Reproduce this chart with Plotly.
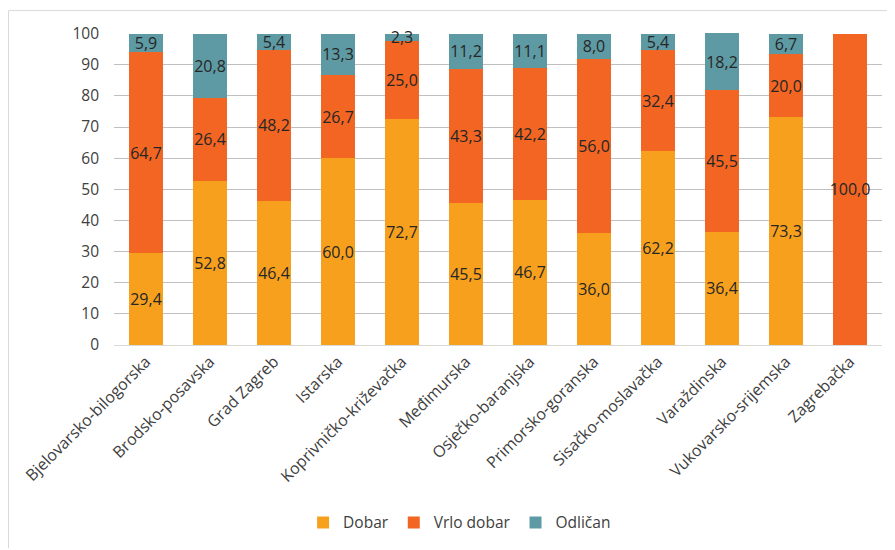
import plotly.graph_objects as go

categories = ["Bjelovarsko-bilogorska", "Brodsko-posavska", "Grad Zagreb", "Istarska",
              "Koprivničko-križevačka", "Međimurska", "Osječko-baranjska", "Primorsko-goranska",
              "Sisačko-moslavačka", "Varaždinska", "Vukovarsko-srijemska", "Zagrebačka"]
dobar = [29.4, 52.8, 46.4, 60.0, 72.7, 45.5, 46.7, 36.0, 62.2, 36.4, 73.3, None]
vrlo_dobar = [64.7, 26.4, 48.2, 26.7, 25.0, 43.3, 42.2, 56.0, 32.4, 45.5, 20.0, 100.0]
odlican = [5.9, 20.8, 5.4, 13.3, 2.3, 11.2, 11.1, 8.0, 5.4, 18.2, 6.7, None]
y_ticks = [0, 10, 20, 30, 40, 50, 60, 70, 80, 90, 100]

series = [("Dobar", dobar, "#F7A01E"), ("Vrlo dobar", vrlo_dobar, "#F26522"), ("Odličan", odlican, "#5E9AA4")]

def fmt(v):
    return "" if v is None else f"{v:.1f}".replace(".", ",")

fig = go.Figure()
for name, vals, color in series:
    fig.add_trace(go.Bar(
        x=categories, y=vals, name=name,
        marker=dict(color=color, line=dict(width=0)),
        text=[fmt(v) for v in vals],
        textposition="inside", insidetextanchor="middle", textangle=0,
        insidetextfont=dict(color="#262626", size=16, family="Open Sans"),
        cliponaxis=False,
    ))

W, H = 887, 542
L, T, PW, PH = 106, 25, 768, 313
fig.update_layout(
    barmode="stack", bargap=0.48,
    width=W, height=H,
    margin=dict(l=L, r=W - L - PW, t=T, b=H - T - PH),
    paper_bgcolor="white", plot_bgcolor="white",
    font=dict(family="Open Sans", size=15, color="#404040"),
    uniformtext=dict(minsize=16, mode="show"),
    showlegend=True,
    legend=dict(orientation="h", x=0.45, xanchor="center", y=-0.565, yanchor="middle",
                font=dict(size=15.5, color="#404040"), traceorder="normal", itemwidth=30),
    xaxis=dict(tickangle=-45, showgrid=False, showline=True, linecolor="#D9D9D9", linewidth=1,
               ticks="", tickfont=dict(size=16, color="#404040")),
    yaxis=dict(range=[0, 100.2], tickvals=y_ticks, showgrid=True, gridcolor="#BFBFBF", gridwidth=1,
               zeroline=False, showline=False, ticks="", ticklabelstandoff=14,
               tickfont=dict(size=15.5, color="#404040")),
    shapes=[
        dict(type="line", xref="paper", yref="paper", x0=(0.5 - L) / PW, x1=(0.5 - L) / PW,
             y0=1 + (T - 2.5) / PH, y1=-(H - T - PH) / PH, line=dict(color="#D9D9D9", width=1)),
        dict(type="line", xref="paper", yref="paper", x0=(0.5 - L) / PW, x1=(W - L) / PW,
             y0=1 + (T - 2.5) / PH, y1=1 + (T - 2.5) / PH, line=dict(color="#D9D9D9", width=1)),
    ],
)

fig.write_html("out.html")
